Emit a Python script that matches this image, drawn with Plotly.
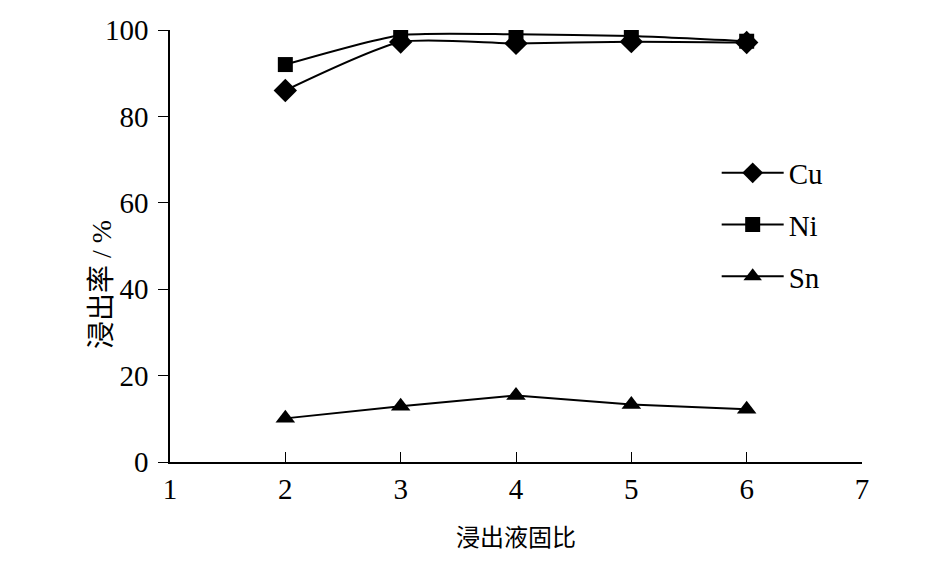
import plotly.graph_objects as go

# liquid-to-solid ratio vs leaching rate
ratio = [2, 3, 4, 5, 6]
cu_rate = [86.0, 97.2, 96.9, 97.3, 97.1]
ni_rate = [92.0, 98.8, 99.0, 98.6, 97.4]
sn_rate = [10.1, 12.9, 15.4, 13.3, 12.2]

font_family = "Liberation Serif, Noto Sans CJK SC, serif"

fig = go.Figure()

fig.add_trace(go.Scatter(
    x=ratio, y=cu_rate, name="Cu", mode="lines+markers",
    line=dict(color="black", width=2, shape="spline", smoothing=0.6),
    marker=dict(symbol="diamond", size=18, color="black"),
    legendgroup="cu"
))
fig.add_trace(go.Scatter(
    x=ratio, y=ni_rate, name="Ni", mode="lines+markers",
    line=dict(color="black", width=2, shape="spline", smoothing=0.6),
    marker=dict(symbol="square", size=15, color="black"),
    legendgroup="ni"
))
fig.add_trace(go.Scatter(
    x=ratio, y=sn_rate, name="Sn", mode="lines+markers",
    line=dict(color="black", width=2),
    marker=dict(symbol="triangle-up", size=17, color="black"),
    legendgroup="sn"
))

# page body has an 8px offset, so margins are shifted by that amount
fig.update_layout(
    width=945, height=567,
    paper_bgcolor="white", plot_bgcolor="white",
    margin=dict(l=162, r=91, t=22, b=113),
    font=dict(family=font_family, size=29, color="black"),
    legend=dict(
        x=0.79, y=0.728, xanchor="left", yanchor="top",
        bgcolor="rgba(0,0,0,0)", font=dict(size=29),
        tracegroupgap=11, itemwidth=62
    ),
    showlegend=True
)

fig.update_xaxes(
    range=[1, 7], tickvals=[1, 2, 3, 4, 5, 6, 7],
    showline=True, linecolor="black", linewidth=1.5,
    ticks="inside", ticklen=10, tickcolor="black",
    showgrid=False, zeroline=False, automargin=False,
    title=dict(text="浸出液固比", font=dict(size=24), standoff=26)
)
fig.update_yaxes(
    range=[0, 100], tickvals=[0, 20, 40, 60, 80, 100],
    showline=True, linecolor="black", linewidth=1.5,
    ticks="outside", ticklen=10, tickcolor="black",
    showgrid=False, zeroline=False, ticklabelstandoff=4,
    automargin=False
)

# y title placed by hand, closer to the tick labels than plotly's standoff allows
fig.add_annotation(
    text="浸出率 / %", textangle=-90, showarrow=False,
    xref="paper", yref="paper", x=-0.098, y=0.41,
    xanchor="center", yanchor="middle",
    font=dict(size=28)
)

fig.write_html("out.html")
